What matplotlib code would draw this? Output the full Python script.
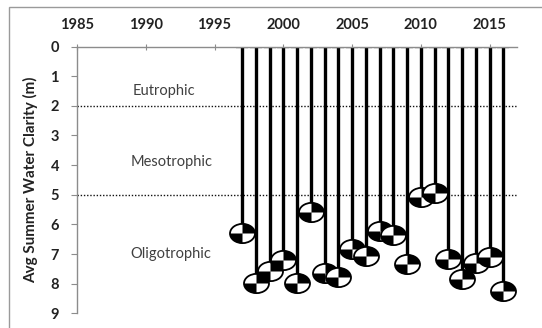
import numpy as np
import matplotlib
matplotlib.use('Agg')
import matplotlib.pyplot as plt
from matplotlib.path import Path
from matplotlib.transforms import Affine2D
from matplotlib.patches import Rectangle

# ---- data ----
years = list(range(1997, 2017))
clarity = [6.30, 7.97, 7.56, 7.20, 7.97, 5.57, 7.65, 7.78, 6.84, 7.07,
           6.21, 6.36, 7.35, 5.06, 4.95, 7.16, 7.83, 7.31, 7.11, 8.24]
x_ticks = [1985, 1990, 1995, 2000, 2005, 2010, 2015]
y_ticks = list(range(0, 10))
thresholds = [2, 5]
zone_labels = ["Eutrophic", "Mesotrophic", "Oligotrophic"]
zone_label_x = [1991.3, 1991.85, 1991.85]
zone_label_y = [1.49, 3.89, 7.01]
ylabel = "Avg Summer Water Clarity (m)"

plt.rcParams['font.family'] = ['Lato', 'DejaVu Sans']

W, H = 542, 328
fig = plt.figure(figsize=(W / 100, H / 100), dpi=100)
fig.patch.set_facecolor('white')

# outer frame
fig.patches.append(Rectangle((9 / W, -0.1), 1.2, 1 - 7 / H + 0.1, transform=fig.transFigure,
                             fill=False, edgecolor='#9a9a9a', linewidth=1.0))

ax = fig.add_axes([77 / W, 1 - 313.4 / H, 440 / W, (313.4 - 46.5) / H])
ax.set_xlim(1985, 2017)
ax.set_ylim(9, 0)

axis_col = '#8c8c8c'
for s in ['right', 'bottom']:
    ax.spines[s].set_visible(False)
for s in ['left', 'top']:
    ax.spines[s].set_color(axis_col)
    ax.spines[s].set_linewidth(1.0)

ax.xaxis.tick_top()
ax.set_xticks(x_ticks)
ax.set_xticklabels([str(t) for t in x_ticks], fontsize=10.5, fontweight='bold', color='#222222')
ax.tick_params(axis='x', direction='inout', length=5, color=axis_col, pad=8)
ax.set_yticks(y_ticks)
ax.set_yticklabels([str(t) for t in y_ticks], fontsize=10.5, fontweight='bold', color='#222222')
ax.tick_params(axis='y', direction='out', length=4, color=axis_col, pad=9)
ax.set_ylabel(ylabel, fontsize=11, fontweight='bold', color='#222222', labelpad=9)

# threshold lines
for t in thresholds:
    ax.axhline(t, color='#111111', linestyle=(0, (1, 1.3)), linewidth=1.0, zorder=1)

# zone labels
for lbl, xx, yy in zip(zone_labels, zone_label_x, zone_label_y):
    ax.text(xx, yy, lbl, ha='center', va='center', fontsize=10.5, color='#404040')

# stems (error bars from surface to depth)
zeros = [0] * len(clarity)
ax.errorbar(years, clarity, yerr=[clarity, zeros], fmt='none', ecolor='black',
            elinewidth=2.4, capsize=4, capthick=1.6, zorder=2)

# secchi disk markers
sx = Affine2D().scale(1.3, 1.0)
ell = Path.unit_circle().transformed(sx)
quad = Path.make_compound_path(Path.wedge(0, 90).transformed(sx),
                               Path.wedge(180, 270).transformed(sx))
for i, (yr, v) in enumerate(zip(years, clarity)):
    z = 3 + i * 0.01
    ax.plot([yr], [v], linestyle='none', marker=ell, ms=18, mfc='white',
            mec='none', zorder=z, clip_on=False)
    ax.plot([yr], [v], linestyle='none', marker=quad, ms=18, mfc='black',
            mec='none', zorder=z + 0.002, clip_on=False)
    ax.plot([yr], [v], linestyle='none', marker=ell, ms=18, mfc='none',
            mec='black', mew=1.3, zorder=z + 0.004, clip_on=False)

fig.savefig('out.png', dpi=100)
